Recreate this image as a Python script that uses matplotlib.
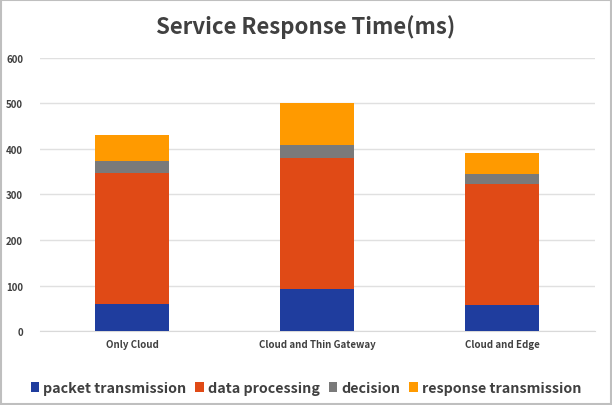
import matplotlib
matplotlib.use("Agg")
import matplotlib.pyplot as plt
import numpy as np

plt.rcParams['font.family'] = ['Noto Sans CJK KR', 'DejaVu Sans']

categories = ["Only Cloud", "Cloud and Thin Gateway", "Cloud and Edge"]
series = ["packet transmission", "data processing", "decision", "response transmission"]
packet = [60, 93, 58]
processing = [288, 288, 266]
decision = [26, 28, 20]
response = [57, 91, 48]
colors = ["#1f3d9e", "#e04a16", "#7a7a7a", "#ff9a00"]

fig = plt.figure(figsize=(6.12, 4.06), dpi=100)
ax = fig.add_axes([0.065, 0.182, 0.907, 0.673])

x = np.arange(len(categories))
bottom = np.zeros(len(categories))
for name, vals, c in zip(series, [packet, processing, decision, response], colors):
    ax.bar(x, vals, 0.4, bottom=bottom, color=c, label=name, zorder=3)
    bottom += np.array(vals)

ax.set_ylim(0, 600)
ax.set_xlim(-0.5, 2.5)
ax.set_yticks(range(0, 601, 100))
ax.set_xticks(x)
ax.set_xticklabels(categories)
ax.grid(axis='y', color='#e0e0e0', linewidth=1, zorder=0)
for s in ['top', 'right', 'left']:
    ax.spines[s].set_visible(False)
ax.spines['bottom'].set_color('#d9d9d9')
ax.tick_params(length=0, labelsize=7, colors='#404040', pad=6)
for lab in ax.get_xticklabels() + ax.get_yticklabels():
    lab.set_fontweight('bold')
ax.tick_params(axis='y', pad=12)

fig.text(0.5, 0.933, "Service Response Time(ms)", ha='center', va='center',
         fontsize=16, fontweight='bold', color='#404040')

leg = fig.legend(loc='center', bbox_to_anchor=(0.5, 0.042), ncol=4, frameon=False,
                 handlelength=0.6, handleheight=0.7, handletextpad=0.3, columnspacing=0.6,
                 prop={'size': 10.3, 'weight': 'bold'})
for t in leg.get_texts():
    t.set_color('#404040')

fig.patches.append(plt.Rectangle((0.002, 0.002), 0.996, 0.996, transform=fig.transFigure,
                                 fill=False, edgecolor='#bfbfbf', linewidth=1.5))

fig.savefig("out.png", dpi=100)
